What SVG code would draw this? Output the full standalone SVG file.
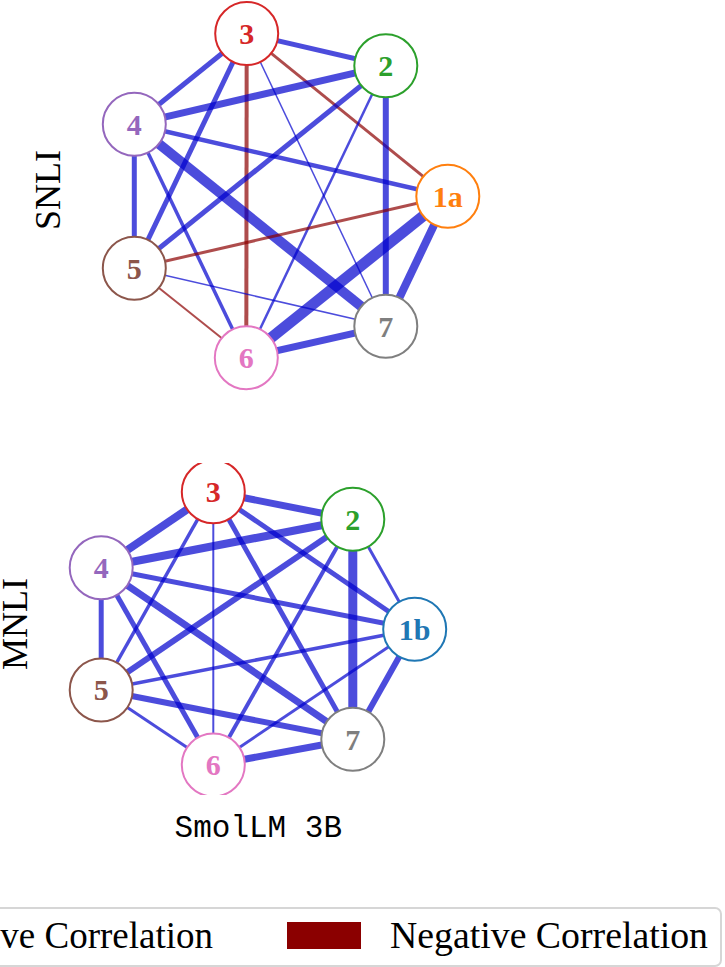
<svg xmlns="http://www.w3.org/2000/svg" width="725" height="967" viewBox="0 0 725 967">
<style>
.pos{stroke:#0000cd;stroke-opacity:0.7;fill:none}
.neg{stroke:#8b0000;stroke-opacity:0.7;fill:none}
.node circle{fill:#fff;stroke-width:2}
.node text{font-family:"Liberation Serif","DejaVu Serif",serif;font-weight:bold;font-size:30px;text-anchor:middle}
.lbl{font-family:"Liberation Serif","DejaVu Serif",serif;font-size:36px;fill:#000}
.leg{font-family:"Liberation Serif","DejaVu Serif",serif;font-size:37px;fill:#000}
</style>
<defs>
<clipPath id="clipB"><rect x="0" y="463" width="725" height="332"/></clipPath>
</defs>
<rect width="725" height="967" fill="#fff"/>
<g id="connectors">
<g id="snli-edges">
<line class="pos" x1="246.7" y1="33.5" x2="385.8" y2="65.8" stroke-width="5"/>
<line class="pos" x1="246.7" y1="33.5" x2="134.3" y2="124.2" stroke-width="5"/>
<line class="pos" x1="246.7" y1="33.5" x2="134.3" y2="268.3" stroke-width="5"/>
<line class="neg" x1="246.7" y1="33.5" x2="246.3" y2="357.7" stroke-width="4"/>
<line class="pos" x1="246.7" y1="33.5" x2="385.8" y2="326.2" stroke-width="1.5"/>
<line class="neg" x1="246.7" y1="33.5" x2="447.8" y2="196.3" stroke-width="3"/>
<line class="pos" x1="385.8" y1="65.8" x2="134.3" y2="124.2" stroke-width="7"/>
<line class="pos" x1="385.8" y1="65.8" x2="134.3" y2="268.3" stroke-width="5"/>
<line class="pos" x1="385.8" y1="65.8" x2="246.3" y2="357.7" stroke-width="2.5"/>
<line class="pos" x1="385.8" y1="65.8" x2="385.8" y2="326.2" stroke-width="6"/>
<line class="pos" x1="134.3" y1="124.2" x2="447.8" y2="196.3" stroke-width="4.5"/>
<line class="pos" x1="134.3" y1="124.2" x2="134.3" y2="268.3" stroke-width="5"/>
<line class="pos" x1="134.3" y1="124.2" x2="246.3" y2="357.7" stroke-width="3.5"/>
<line class="pos" x1="134.3" y1="124.2" x2="385.8" y2="326.2" stroke-width="10"/>
<line class="neg" x1="447.8" y1="196.3" x2="134.3" y2="268.3" stroke-width="3"/>
<line class="pos" x1="447.8" y1="196.3" x2="246.3" y2="357.7" stroke-width="11"/>
<line class="pos" x1="447.8" y1="196.3" x2="385.8" y2="326.2" stroke-width="8"/>
<line class="pos" x1="134.3" y1="268.3" x2="385.8" y2="326.2" stroke-width="1.5"/>
<line class="neg" x1="134.3" y1="268.3" x2="246.3" y2="357.7" stroke-width="2"/>
<line class="pos" x1="246.3" y1="357.7" x2="385.8" y2="326.2" stroke-width="7"/>
</g>
<g id="mnli-edges" clip-path="url(#clipB)">
<line class="pos" x1="213.3" y1="491.7" x2="352.8" y2="519.3" stroke-width="7"/>
<line class="pos" x1="213.3" y1="491.7" x2="101.2" y2="567.7" stroke-width="8"/>
<line class="pos" x1="213.3" y1="491.7" x2="101.2" y2="690" stroke-width="3.5"/>
<line class="pos" x1="213.3" y1="491.7" x2="213.3" y2="765" stroke-width="2"/>
<line class="pos" x1="213.3" y1="491.7" x2="352.8" y2="739.3" stroke-width="5"/>
<line class="pos" x1="213.3" y1="491.7" x2="414.7" y2="629.2" stroke-width="5"/>
<line class="pos" x1="352.8" y1="519.3" x2="101.2" y2="567.7" stroke-width="8"/>
<line class="pos" x1="352.8" y1="519.3" x2="101.2" y2="690" stroke-width="6"/>
<line class="pos" x1="352.8" y1="519.3" x2="213.3" y2="765" stroke-width="4"/>
<line class="pos" x1="352.8" y1="519.3" x2="352.8" y2="739.3" stroke-width="9"/>
<line class="pos" x1="352.8" y1="519.3" x2="414.7" y2="629.2" stroke-width="3"/>
<line class="pos" x1="101.2" y1="567.7" x2="414.7" y2="629.2" stroke-width="5"/>
<line class="pos" x1="101.2" y1="567.7" x2="101.2" y2="690" stroke-width="5"/>
<line class="pos" x1="101.2" y1="567.7" x2="213.3" y2="765" stroke-width="5"/>
<line class="pos" x1="101.2" y1="567.7" x2="352.8" y2="739.3" stroke-width="7"/>
<line class="pos" x1="414.7" y1="629.2" x2="101.2" y2="690" stroke-width="3.5"/>
<line class="pos" x1="414.7" y1="629.2" x2="213.3" y2="765" stroke-width="3"/>
<line class="pos" x1="414.7" y1="629.2" x2="352.8" y2="739.3" stroke-width="6"/>
<line class="pos" x1="101.2" y1="690" x2="352.8" y2="739.3" stroke-width="6"/>
<line class="pos" x1="101.2" y1="690" x2="213.3" y2="765" stroke-width="3"/>
<line class="pos" x1="213.3" y1="765" x2="352.8" y2="739.3" stroke-width="7"/>
</g>
</g>
<g id="snli-nodes">
<g id="snli-3" class="node"><circle cx="246.7" cy="33.5" r="31.5" stroke="#d62728"/><text x="246.7" y="43.8" fill="#d62728">3</text></g>
<g id="snli-2" class="node"><circle cx="385.8" cy="65.8" r="31.5" stroke="#2ca02c"/><text x="385.8" y="76.1" fill="#2ca02c">2</text></g>
<g id="snli-4" class="node"><circle cx="134.3" cy="124.2" r="31.5" stroke="#9467bd"/><text x="134.3" y="134.5" fill="#9467bd">4</text></g>
<g id="snli-1a" class="node"><circle cx="447.8" cy="196.3" r="31.5" stroke="#ff7f0e"/><text x="447.8" y="206.6" fill="#ff7f0e">1a</text></g>
<g id="snli-5" class="node"><circle cx="134.3" cy="268.3" r="31.5" stroke="#8c564b"/><text x="134.3" y="278.6" fill="#8c564b">5</text></g>
<g id="snli-7" class="node"><circle cx="385.8" cy="326.2" r="31.5" stroke="#7f7f7f"/><text x="385.8" y="336.5" fill="#7f7f7f">7</text></g>
<g id="snli-6" class="node"><circle cx="246.3" cy="357.7" r="31.5" stroke="#e377c2"/><text x="246.3" y="368" fill="#e377c2">6</text></g>
</g>
<g id="mnli-nodes" clip-path="url(#clipB)">
<g id="mnli-3" class="node"><circle cx="213.3" cy="491.7" r="31.5" stroke="#d62728"/><text x="213.3" y="502" fill="#d62728">3</text></g>
<g id="mnli-2" class="node"><circle cx="352.8" cy="519.3" r="31.5" stroke="#2ca02c"/><text x="352.8" y="529.6" fill="#2ca02c">2</text></g>
<g id="mnli-4" class="node"><circle cx="101.2" cy="567.7" r="31.5" stroke="#9467bd"/><text x="101.2" y="578" fill="#9467bd">4</text></g>
<g id="mnli-1b" class="node"><circle cx="414.7" cy="629.2" r="31.5" stroke="#1f77b4"/><text x="414.7" y="639.5" fill="#1f77b4">1b</text></g>
<g id="mnli-5" class="node"><circle cx="101.2" cy="690" r="31.5" stroke="#8c564b"/><text x="101.2" y="700.3" fill="#8c564b">5</text></g>
<g id="mnli-7" class="node"><circle cx="352.8" cy="739.3" r="31.5" stroke="#7f7f7f"/><text x="352.8" y="749.6" fill="#7f7f7f">7</text></g>
<g id="mnli-6" class="node"><circle cx="213.3" cy="765" r="31.5" stroke="#e377c2"/><text x="213.3" y="775.3" fill="#e377c2">6</text></g>
</g>
<g id="labels">
<text class="lbl" transform="translate(60,190) rotate(-90)" text-anchor="middle">SNLI</text>
<text class="lbl" transform="translate(27,624) rotate(-90)" text-anchor="middle">MNLI</text>
<text x="258.3" y="837" font-family="'Liberation Mono','DejaVu Sans Mono',monospace" font-size="31" text-anchor="middle" fill="#000">SmolLM 3B</text>
</g>
<g id="legend">
<rect x="-10" y="908" width="731" height="58" rx="6" fill="#fff" stroke="#d6d6d6" stroke-width="2"/>
<text class="leg" x="213" y="948" text-anchor="end">Positive Correlation</text>
<rect x="287" y="922" width="74" height="27" fill="#8b0000"/>
<text class="leg" x="390" y="948" textLength="318" lengthAdjust="spacingAndGlyphs">Negative Correlation</text>
</g>
</svg>
